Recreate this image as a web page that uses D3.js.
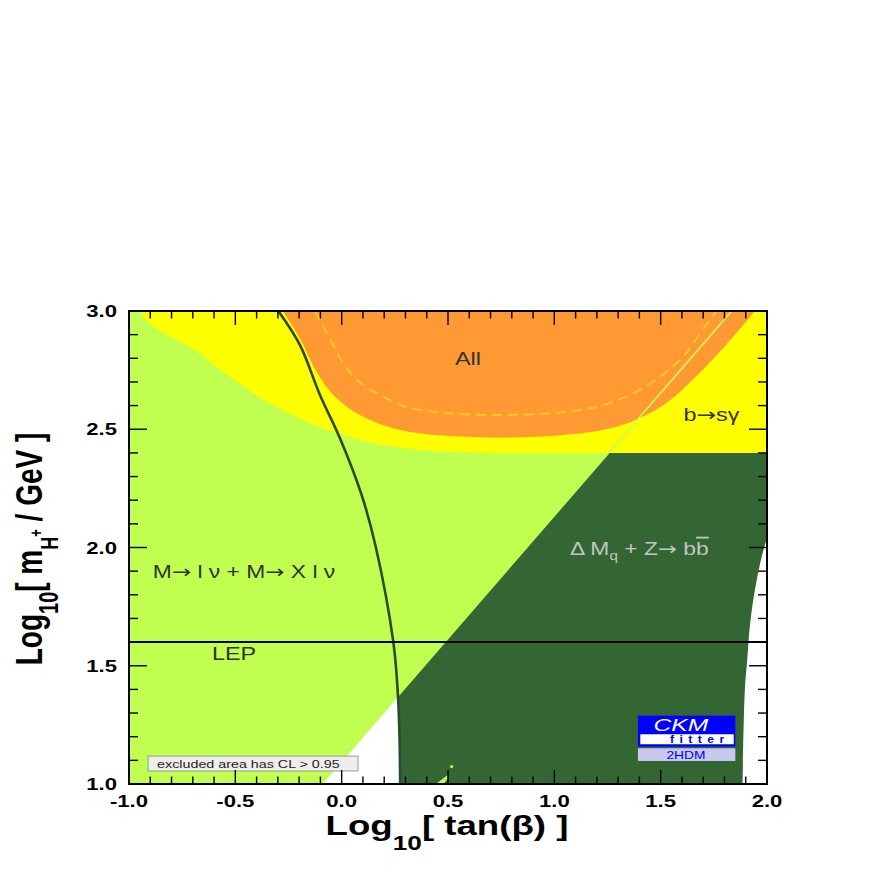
<!DOCTYPE html>
<html>
<head>
<meta charset="utf-8">
<script src="https://cdn.jsdelivr.net/npm/d3@7"></script>
<style>
  body { margin: 0; background: #fff; }
  svg { display: block; }
  .arrow { font-family: "DejaVu Sans", sans-serif; }
</style>
</head>
<body>
<div id="chart"></div>
<script>
// axis ranges / ticks
var xDomain = [-1, 2]
  , yDomain = [1, 3]
  , xTickLabels = [-1.0, -0.5, 0.0, 0.5, 1.0, 1.5, 2.0]
  , yTickLabels = [1.0, 1.5, 2.0, 2.5, 3.0];

// M -> l nu boundary (straight edge of the light green area)
var diagonal = [[-0.094, 1.0], [1.834, 3.0]];

// b -> s gamma (yellow) lower edge, then flat at bsgFlat
var bsgEdge = [[-0.95, 3.0], [-0.90, 2.945], [-0.823, 2.90], [-0.729, 2.856], [-0.666, 2.821],
               [-0.596, 2.768], [-0.494, 2.703], [-0.353, 2.617], [-0.165, 2.532],
               [-0.040, 2.490], [0.118, 2.447], [0.274, 2.422], [0.50, 2.405], [0.70, 2.40]];
var bsgFlat = 2.40;

// "All" (orange) edge, closed along the top
var allEdge = [[-0.277, 3.0], [-0.196, 2.884], [-0.118, 2.743], [-0.039, 2.645], [0.086, 2.560],
               [0.274, 2.497], [0.588, 2.468], [0.901, 2.468], [1.214, 2.495], [1.371, 2.535],
               [1.528, 2.612], [1.685, 2.740], [1.841, 2.891], [1.943, 3.0]];

// dashed contour inside "All"
var allDashed = [[-0.126, 3.0], [-0.039, 2.856], [0.023, 2.757], [0.102, 2.687], [0.196, 2.638],
                 [0.290, 2.598], [0.431, 2.574], [0.744, 2.560], [1.058, 2.574], [1.214, 2.598],
                 [1.371, 2.652], [1.497, 2.722], [1.606, 2.807], [1.685, 2.906], [1.763, 3.0]];

// dark contour line (also left edge of the dark green area at the bottom)
var darkCurve = [[-0.298, 3.0], [-0.196, 2.856], [-0.102, 2.645], [-0.008, 2.462], [0.094, 2.222],
                 [0.161, 2.0], [0.243, 1.6], [0.263, 1.4], [0.272, 1.2], [0.275, 1.0]];
var crossY = 1.37;

// right edge of the dark green (Delta Mq + Z->bb) area
var rightEdge = [[2.0, 2.04], [1.975, 1.961], [1.943, 1.82], [1.919, 1.665], [1.907, 1.524],
                 [1.896, 1.40], [1.885, 1.0]];

var lepLimit = 1.6;

// little light green island at the bottom
var island = [[0.443, 1.0], [0.486, 1.030], [0.500, 1.040], [0.497, 1.021], [0.479, 1.0]];
var islandDot = [0.517, 1.074];

var colors = {
  lightGreen: '#c0ff50',
  darkGreen: '#336633',
  yellow: '#ffff00',
  orange: '#ff9933',
  dashed: '#ffcc22',
  curve: '#2c4a2c'
};

var width = 872
  , height = 872
  , margin = { left: 129, right: 105, top: 311, bottom: 88 }
  , plotW = width - margin.left - margin.right
  , plotH = height - margin.top - margin.bottom
  , stretch = 1.38
  , font = '"Liberation Sans", Arial, Helvetica, sans-serif';

var x = d3.scaleLinear().domain(xDomain).range([margin.left, margin.left + plotW])
  , y = d3.scaleLinear().domain(yDomain).range([margin.top + plotH, margin.top]);

function diagX(yv) {
  var a = diagonal[0], b = diagonal[1];
  return a[0] + (yv - a[1]) * (b[0] - a[0]) / (b[1] - a[1]);
}

var smooth = d3.line().x(d => x(d[0])).y(d => y(d[1])).curve(d3.curveCatmullRom.alpha(0.5))
  , straight = d3.line().x(d => x(d[0])).y(d => y(d[1]));

function lineTo(pts) {
  return pts.map(p => 'L' + x(p[0]) + ',' + y(p[1])).join('');
}

var svg = d3.select('#chart').append('svg')
    .attr('width', width)
    .attr('height', height);

svg.append('clipPath').attr('id', 'plotclip')
  .append('rect')
    .attr('x', margin.left).attr('y', margin.top)
    .attr('width', plotW).attr('height', plotH);

var gPlot = svg.append('g').attr('clip-path', 'url(#plotclip)');

// light green
gPlot.append('path')
  .attr('d', straight([[-1, 1], diagonal[0], diagonal[1], [-1, 3]]) + 'Z')
  .attr('fill', colors.lightGreen);

// dark green
var darkBottom = darkCurve.filter(d => d[1] < crossY);
darkBottom.reverse();
gPlot.append('path')
  .attr('d', straight(darkBottom) + lineTo([[diagX(crossY), crossY], [diagX(bsgFlat), bsgFlat], [2, bsgFlat]])
       + smooth(rightEdge).replace(/^M/, 'L') + 'Z')
  .attr('fill', colors.darkGreen);

// yellow
gPlot.append('path')
  .attr('d', smooth(bsgEdge) + lineTo([[2, bsgFlat], [2, 3]]) + 'Z')
  .attr('fill', colors.yellow);

// orange
gPlot.append('path')
  .attr('d', smooth(allEdge) + 'Z')
  .attr('fill', colors.orange);

gPlot.append('path')
  .attr('d', smooth(allDashed))
  .attr('fill', 'none')
  .attr('stroke', colors.dashed)
  .attr('stroke-width', 2)
  .attr('stroke-dasharray', '10,6');

// light green edge continues through the yellow / orange
gPlot.append('path')
  .attr('d', straight(diagonal))
  .attr('stroke', colors.lightGreen)
  .attr('stroke-width', 1.6);

gPlot.append('path')
  .attr('d', straight(island) + 'Z')
  .attr('fill', colors.lightGreen);
gPlot.append('circle')
  .attr('cx', x(islandDot[0])).attr('cy', y(islandDot[1])).attr('r', 1.6)
  .attr('fill', colors.lightGreen);

gPlot.append('path')
  .attr('d', smooth(darkCurve))
  .attr('fill', 'none')
  .attr('stroke', colors.curve)
  .attr('stroke-width', 2.6);

gPlot.append('line')
  .attr('x1', x(xDomain[0])).attr('x2', x(xDomain[1]))
  .attr('y1', y(lepLimit)).attr('y2', y(lepLimit))
  .attr('stroke', '#000')
  .attr('stroke-width', 2);

// text helper: glyphs are stretched sideways like the original
function label(px, py, opts) {
  var g = svg.append('g')
    .attr('transform', 'translate(' + px + ',' + py + ') scale(' + (opts.sx || stretch) + ',1)');
  return g.append('text')
    .attr('font-family', font)
    .attr('font-size', opts.size)
    .attr('font-weight', opts.weight || 'normal')
    .attr('font-style', opts.style || 'normal')
    .attr('fill', opts.fill || '#333')
    .attr('text-anchor', opts.anchor || 'middle');
}

// write a string where "->" becomes a long thin arrow
function withArrows(t, str) {
  str.split('->').forEach((part, i) => {
    if (i > 0) t.append('tspan').attr('class', 'arrow').text('\u2192');
    if (part) t.append('tspan').text(part);
  });
}

label(x(0.594), y(2.772), { size: 18, sx: 1.3 }).text('All');
label(x(1.739), y(2.533), { size: 18, sx: 1.3 }).call(t => withArrows(t, 'b->s\u03B3'));
label(x(1.400), y(1.968), { size: 18, sx: 1.27, fill: '#c4c4c4' })
  .call(t => {
    t.append('tspan').text('\u0394 M');
    t.append('tspan').attr('font-size', 12).attr('dy', 5).text('q');
    t.append('tspan').attr('dy', -5).text(' + Z');
    t.append('tspan').attr('class', 'arrow').text('\u2192');
    t.append('tspan').text(' b');
    t.append('tspan').style('text-decoration', 'overline').text('b');
  });
label(x(-0.459), y(1.873), { size: 18, sx: 1.27 })
  .call(t => withArrows(t, 'M-> l \u03BD + M-> X l \u03BD'));
label(x(-0.506), y(1.525), { size: 18, sx: 1.3 }).text('LEP');

// legend box
svg.append('rect')
  .attr('x', x(-0.91)).attr('y', y(1.118))
  .attr('width', x(0.077) - x(-0.91)).attr('height', y(1.055) - y(1.118))
  .attr('fill', '#eeeeee')
  .attr('stroke', '#999')
  .attr('stroke-width', 1);
label(x(-0.868), y(1.069), { size: 11, sx: 1.3, anchor: 'start', fill: '#222' })
  .text('excluded area has CL > 0.95');

// CKMfitter logo
var lx = x(1.393), ly = y(1.289), lw = 97.4;
svg.append('rect').attr('x', lx).attr('y', ly).attr('width', lw).attr('height', 31).attr('fill', '#0000ff');
svg.append('rect').attr('x', lx + 2.4).attr('y', ly + 18.6).attr('width', lw - 4).attr('height', 10).attr('fill', '#fff');
svg.append('rect').attr('x', lx).attr('y', ly + 32.6).attr('width', lw).attr('height', 12.7).attr('fill', '#c8c8f0');
label(lx + 43, ly + 15.5, { size: 17, sx: 1.45, style: 'italic', fill: '#fff' }).text('CKM');
label(lx + 32, ly + 27.8, { size: 11, sx: 1.1, weight: 'bold', fill: '#0000ff', anchor: 'start' })
  .attr('letter-spacing', 5).text('fitter');
label(lx + 48, ly + 43, { size: 11, sx: 1.25, fill: '#0000ff' }).text('2HDM');

// ticks
var gTicks = svg.append('g').attr('stroke', '#000').attr('stroke-width', 1.4);
var xMinor = d3.range(-9, 20).map(d => d / 10)
  , yMinor = d3.range(11, 30).map(d => d / 10);
function isMajor(v) { return Math.abs(v * 2 - Math.round(v * 2)) < 1e-6; }

xMinor.forEach(v => {
  var len = isMajor(v) ? 14 : 7.5;
  gTicks.append('line').attr('x1', x(v)).attr('x2', x(v))
    .attr('y1', y(1)).attr('y2', y(1) - len);
  gTicks.append('line').attr('x1', x(v)).attr('x2', x(v))
    .attr('y1', y(3)).attr('y2', y(3) + len);
});
yMinor.forEach(v => {
  var len = isMajor(v) ? 18 : 9;
  gTicks.append('line').attr('y1', y(v)).attr('y2', y(v))
    .attr('x1', x(-1)).attr('x2', x(-1) + len);
  gTicks.append('line').attr('y1', y(v)).attr('y2', y(v))
    .attr('x1', x(2)).attr('x2', x(2) - len);
});

// frame
svg.append('rect')
  .attr('x', margin.left).attr('y', margin.top)
  .attr('width', plotW).attr('height', plotH)
  .attr('fill', 'none')
  .attr('stroke', '#000')
  .attr('stroke-width', 2);

var fmt = v => d3.format('.1f')(v).replace('\u2212', '-');
xTickLabels.forEach(v => {
  label(x(v), 807, { size: 16, weight: 'bold', fill: '#000' }).text(fmt(v));
});
yTickLabels.forEach(v => {
  label(117, y(v) + 6, { size: 16, weight: 'bold', fill: '#000', anchor: 'end' }).text(fmt(v));
});

// x title
label(447, 835, { size: 28, sx: 1.31, weight: 'bold', fill: '#000' })
  .call(t => {
    t.append('tspan').text('Log');
    t.append('tspan').attr('font-size', 20).attr('dy', 15).text('10');
    t.append('tspan').attr('dy', -15).text('[ tan(\u03B2) ]');
  });

// y title (rotated, stretched across)
svg.append('g')
  .attr('transform', 'translate(42,549) scale(1.35,1) rotate(-90)')
  .append('text')
    .attr('font-family', font)
    .attr('font-size', 28)
    .attr('font-weight', 'bold')
    .attr('text-anchor', 'middle')
    .attr('fill', '#000')
    .call(t => {
      t.append('tspan').text('Log');
      t.append('tspan').attr('font-size', 20).attr('dy', 12).text('10');
      t.append('tspan').attr('dy', -12).text('[ m');
      t.append('tspan').attr('font-size', 18).attr('dy', 12).text('H');
      t.append('tspan').attr('font-size', 13).attr('dy', -12).text('+');
      t.append('tspan').text(' / GeV ]');
    });
</script>
</body>
</html>
